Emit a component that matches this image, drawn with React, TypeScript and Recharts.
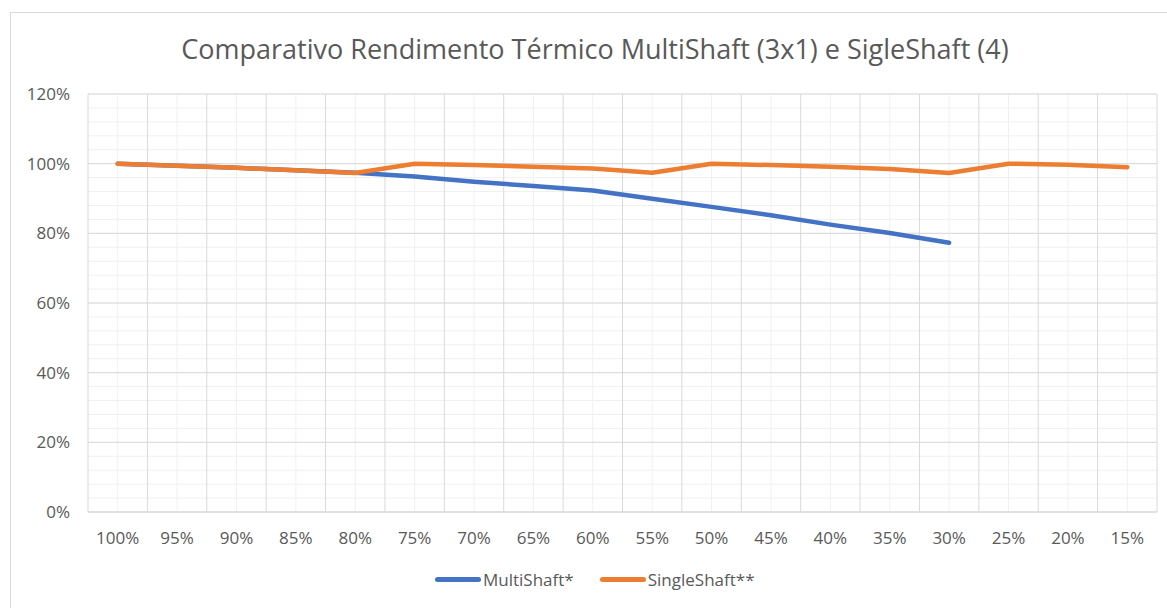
import { LineChart, Line, XAxis, YAxis, CartesianGrid } from "recharts";

const categories = [
  "100%", "95%", "90%", "85%", "80%", "75%", "70%", "65%", "60%",
  "55%", "50%", "45%", "40%", "35%", "30%", "25%", "20%", "15%",
];

const multiShaft = [
  100, 99.4, 98.8, 98.1, 97.4, 96.3, 94.8, 93.6, 92.3,
  89.9, 87.6, 85.2, 82.5, 80.1, 77.3, null, null, null,
];

const singleShaft = [
  100, 99.4, 98.8, 98.1, 97.3, 100, 99.6, 99.1, 98.6,
  97.4, 100, 99.6, 99.1, 98.5, 97.3, 100, 99.7, 99.0,
];

const yTicks = [0, 20, 40, 60, 80, 100, 120];

const data = categories.map((c, i) => ({
  name: c,
  multi: multiShaft[i],
  single: singleShaft[i],
}));

const FONT = "'Open Sans', sans-serif";
const TEXT = "#595959";
const MAJOR = "#d9d9d9";
const MINOR = "#f0f0f0";
const BLUE = "#4472c4";
const ORANGE = "#ed7d31";
const Y_MAX = 120;

// plot area: 88..1157 wide, so half a category each side
const PLOT_W = 1167 - 28 - 60 - 10;
const HALF_CAT = PLOT_W / categories.length / 2;

const hLines = (step: number) => ({ offset }: any) => {
  const out: number[] = [];
  for (let v = 0; v <= Y_MAX; v += step) {
    out.push(offset.top + offset.height * (1 - v / Y_MAX));
  }
  return out;
};

const vLines = (shift: number) => ({ offset }: any) => {
  const n = categories.length;
  const out: number[] = [];
  for (let i = 0; i <= n; i++) {
    if (i + shift <= n) out.push(offset.left + ((i + shift) * offset.width) / n);
  }
  return out;
};

const LegendItem = ({ color, label }: { color: string; label: string }) => (
  <div style={{ display: "flex", alignItems: "center", marginRight: 26 }}>
    <div
      style={{
        width: 46,
        height: 5,
        borderRadius: 3,
        background: color,
        marginRight: 2,
      }}
    />
    <span>{label}</span>
  </div>
);

export default function App() {
  return (
    <div
      style={{
        position: "absolute",
        left: 0,
        top: 0,
        width: 1167,
        height: 608,
        overflow: "hidden",
        background: "#fff",
        fontFamily: FONT,
      }}
    >
      <div
        style={{
          position: "absolute",
          left: 10,
          top: 12,
          width: 1180,
          height: 620,
          border: `1px solid ${MAJOR}`,
        }}
      />
      <div
        style={{
          position: "absolute",
          left: 10,
          width: 1170,
          top: 30,
          textAlign: "center",
          fontSize: 27,
          color: TEXT,
          whiteSpace: "nowrap",
        }}
      >
        Comparativo Rendimento Térmico MultiShaft (3x1) e SigleShaft (4)
      </div>
      <div style={{ position: "absolute", left: 0, top: 0 }}>
        <LineChart
          width={1167}
          height={608}
          data={data}
          margin={{ top: 94, right: 10, bottom: 66, left: 28 }}
        >
          <CartesianGrid
            stroke={MINOR}
            horizontalCoordinatesGenerator={hLines(4)}
            verticalCoordinatesGenerator={vLines(0.5)}
          />
          <CartesianGrid
            stroke={MAJOR}
            horizontalCoordinatesGenerator={hLines(20)}
            verticalCoordinatesGenerator={vLines(0)}
          />
          <XAxis
            dataKey="name"
            height={30}
            padding={{ left: HALF_CAT, right: HALF_CAT }}
            axisLine={{ stroke: MAJOR }}
            tickLine={false}
            tickSize={0}
            tickMargin={20}
            interval={0}
            tick={{ fill: TEXT, fontSize: 17, fontFamily: FONT }}
          />
          <YAxis
            width={60}
            domain={[0, Y_MAX]}
            ticks={yTicks}
            axisLine={false}
            tickLine={false}
            tickSize={0}
            tickMargin={18}
            tickFormatter={(v) => `${v}%`}
            tick={{ fill: TEXT, fontSize: 17, fontFamily: FONT }}
          />
          <Line
            dataKey="multi"
            stroke={BLUE}
            strokeWidth={4.5}
            strokeLinecap="round"
            strokeLinejoin="round"
            dot={false}
            isAnimationActive={false}
          />
          <Line
            dataKey="single"
            stroke={ORANGE}
            strokeWidth={4.5}
            strokeLinecap="round"
            strokeLinejoin="round"
            dot={false}
            isAnimationActive={false}
          />
        </LineChart>
      </div>
      <div
        style={{
          position: "absolute",
          left: 435,
          top: 568,
          display: "flex",
          fontSize: 17,
          color: TEXT,
        }}
      >
        <LegendItem color={BLUE} label="MultiShaft*" />
        <LegendItem color={ORANGE} label="SingleShaft**" />
      </div>
    </div>
  );
}
